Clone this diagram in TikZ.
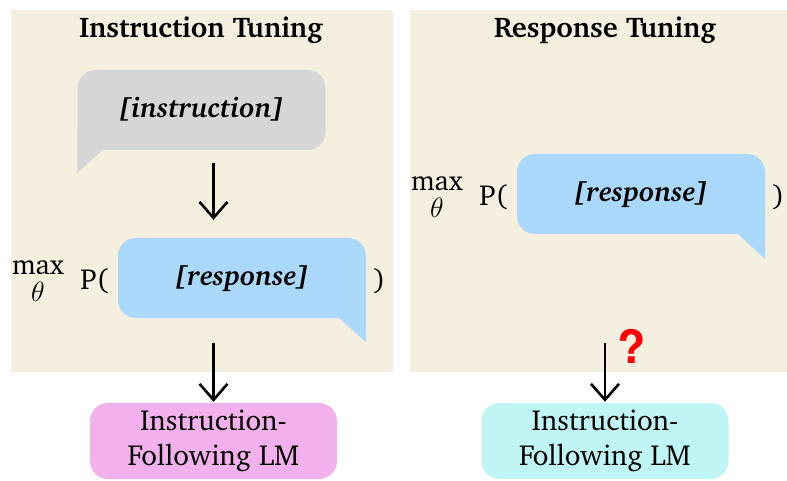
\RequirePackage{fix-cm}
\documentclass[tikz,border=0pt]{standalone}
\usepackage[T1]{fontenc}
\usepackage{charter}
\usepackage{helvet}
\usepackage{xcolor}
\usetikzlibrary{arrows.meta, positioning, calc}
\definecolor{panelbeige}{HTML}{F5EFE0}
\definecolor{bubblegray}{HTML}{D6D6D6}
\definecolor{bubbleblue}{HTML}{A9D8FA}
\definecolor{lmpink}{HTML}{F2B0EC}
\definecolor{lmcyan}{HTML}{BFF5F5}
\tikzset{
  ttl/.style={inner sep=0pt, font=\fontsize{28.5pt}{30pt}\selectfont\bfseries},
  txt/.style={inner sep=0pt, font=\fontsize{29pt}{30pt}\selectfont},
  bubble/.style={rounded corners=18pt, minimum width=248pt, minimum height=80pt, inner sep=0pt, font=\fontsize{28pt}{30pt}\selectfont\bfseries\itshape},
  lmbox/.style={rounded corners=18pt, minimum width=247pt, minimum height=76pt, inner sep=0pt, align=center, font=\fontsize{29pt}{35pt}\selectfont},
  downarr/.style={-{Straight Barb[length=16pt,width=28pt]}, line width=2.6pt}
}

\begin{document}
\begin{tikzpicture}[x=1pt, y=-1pt]
  \useasboundingbox (0,0) rectangle (787,481);
  \fill[panelbeige] (11,10) rectangle (393,372);
  \fill[panelbeige] (410,10) rectangle (787,372);

  \node[ttl] (ttlA) at (201,30) {Instruction Tuning};
  \node[ttl] (ttlB) at (605,30) {Response Tuning};

  \node[bubble, fill=bubblegray] (instr) at (201.5,110) {[instruction]};
  \node[bubble, fill=bubbleblue] (respA) at (242,278) {[response]};
  \node[bubble, fill=bubbleblue] (respB) at (641,194) {[response]};

  \fill[bubblegray] ([yshift=20pt]instr.south west) -- ([yshift=-23pt]instr.south west) -- ([xshift=25pt]instr.south west) -- cycle;
  \fill[bubbleblue] ([yshift=20pt]respA.south east) -- ([yshift=-24pt]respA.south east) -- ([xshift=-27pt]respA.south east) -- cycle;
  \fill[bubbleblue] ([yshift=20pt]respB.south east) -- ([yshift=-25pt]respB.south east) -- ([xshift=-27pt]respB.south east) -- cycle;

  \node[txt, left=9pt of respA, yshift=-3pt] (pA) {P(};
  \node[txt, left=16pt of pA, align=center, font=\fontsize{28pt}{27pt}\selectfont] (maxA) {max\\$\theta$};
  \node[txt, right=7pt of respA, yshift=-3pt] (closeA) {)};
  \node[txt, left=9pt of respB, yshift=-3pt] (pB) {P(};
  \node[txt, left=16pt of pB, align=center, font=\fontsize{28pt}{27pt}\selectfont] (maxB) {max\\$\theta$};
  \node[txt, right=7pt of respB, yshift=-3pt] (closeB) {)};

  \node[lmbox, fill=lmpink] (lmA) at (213.5,441) {Instruction-\\Following LM};
  \node[lmbox, fill=lmcyan] (lmB) at (605,441) {Instruction-\\Following LM};

  \draw[downarr, shorten <=13pt, shorten >=18pt] (instr.south -| lmA.north) -- (respA.north -| lmA.north);
  \draw[downarr, shorten <=25pt, shorten >=1pt] (respA.south -| lmA.north) -- (lmA.north);
  \coordinate (qtop) at (605,343);
  \draw[downarr, shorten >=1pt] (qtop) -- (lmB.north);
  \node[font=\fontsize{46pt}{46pt}\sffamily\bfseries, text=red, inner sep=0pt] (qmark) at (632,347) {?};
\end{tikzpicture}
\end{document}
